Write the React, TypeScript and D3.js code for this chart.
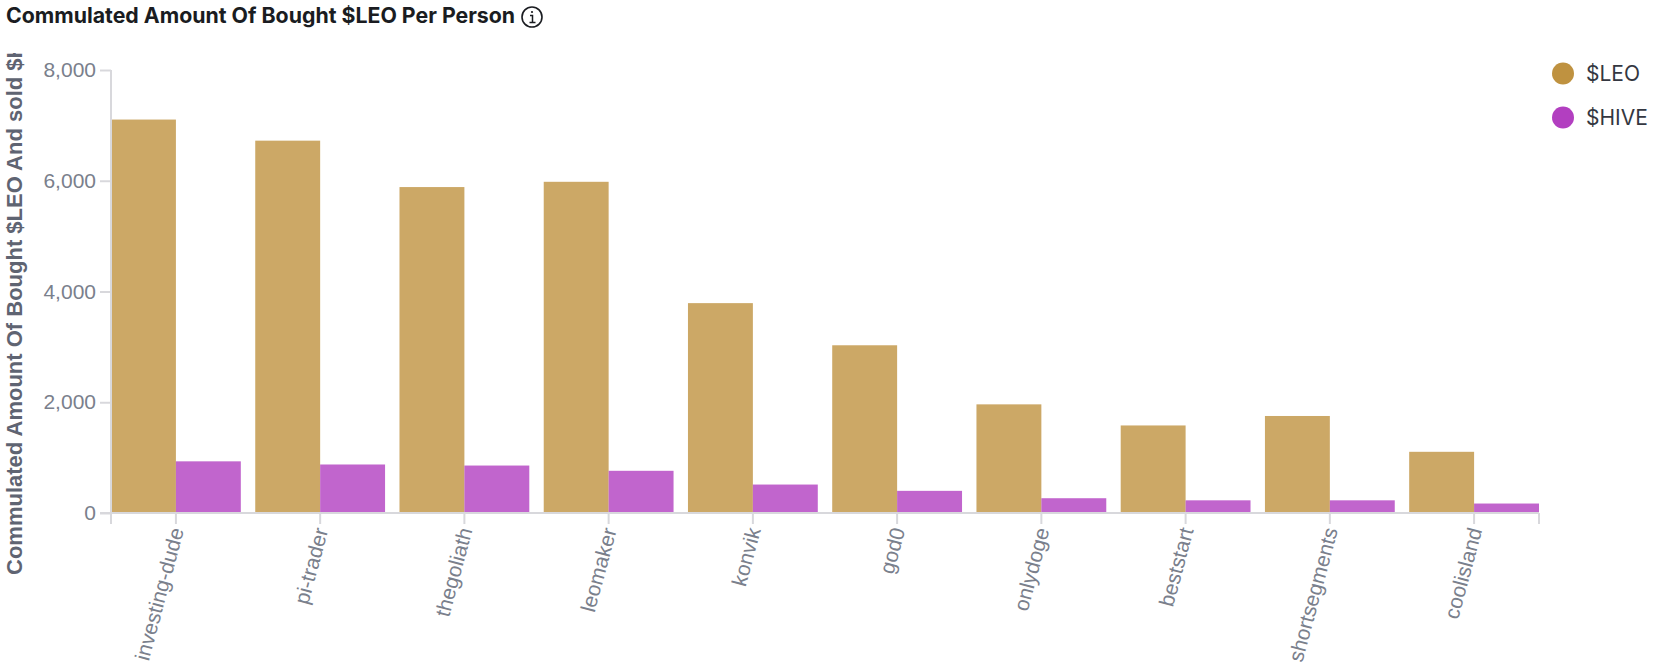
import React, { useEffect, useRef } from "react";
import * as d3 from "d3";

const categories = ["investing-dude", "pi-trader", "thegoliath", "leomaker", "konvik", "god0", "onlydoge", "beststart", "shortsegments", "coolisland"];
const leoValues = [7105, 6724, 5886, 5981, 3790, 3029, 1962, 1581, 1752, 1105];
const hiveValues = [933, 876, 857, 762, 514, 400, 267, 229, 229, 171];
const seriesNames = ["$LEO", "$HIVE"];
const legendColors = ["#BF9240", "#B23FC0"];
const yTicks = [0, 2000, 4000, 6000, 8000];
const titleText = "Commulated Amount Of Bought $LEO Per Person";
const yTitle = "Commulated Amount Of Bought $LEO And sold $HIVE";
const FONT = "Inter, 'Noto Sans', sans-serif";
const AXFONT = "'Liberation Sans', Arial, sans-serif";
const AXIS = "#D8D8DC";

export default function App() {
  const ref = useRef<SVGSVGElement>(null);
  useEffect(() => {
    const svg = d3.select(ref.current!);
    svg.selectAll("*").remove();
    const x = d3.scaleBand<string>().domain(categories).range([111, 1539]).paddingInner(0.1).paddingOuter(0);
    const inner = d3.scaleBand<string>().domain(seriesNames).range([0, x.bandwidth()]);
    const y = d3.scaleLinear().domain([0, 8000]).range([513, 70]);

    svg.append("defs").append("clipPath").attr("id", "ytitle-clip")
      .append("rect").attr("x", 0).attr("y", 53).attr("width", 40).attr("height", 540);

    svg.append("text").attr("x", 6).attr("y", 23).attr("font-family", FONT).attr("font-weight", 700)
      .attr("font-size", 21.3).attr("fill", "#1a1c21").text(titleText);
    const info = svg.append("g").attr("transform", "translate(532,17)").attr("fill", "none").attr("stroke", "#1a1c21");
    info.append("circle").attr("r", 10).attr("stroke-width", 1.6);
    info.append("path").attr("d", "M-2,-1.5H0.5V5.5M-2.5,5.5H3.5").attr("stroke-width", 1.5);
    info.append("circle").attr("cx", 0).attr("cy", -5).attr("r", 1.1).attr("fill", "#1a1c21").attr("stroke", "none");

    const groups = svg.append("g").selectAll("g").data(categories).join("g")
      .attr("transform", (d) => `translate(${x(d)},0)`);
    [leoValues, hiveValues].forEach((vals, s) => {
      groups.append("rect")
        .attr("x", inner(seriesNames[s])!)
        .attr("width", inner.bandwidth())
        .attr("y", (_, i) => y(vals[i]))
        .attr("height", (_, i) => y(0) - y(vals[i]))
        .attr("fill", legendColors[s]).attr("fill-opacity", 0.8);
    });

    const yAxis = svg.append("g").attr("transform", "translate(111,0)")
      .call(d3.axisLeft(y).tickValues(yTicks).tickFormat(d3.format(",") as any).tickSize(11).tickPadding(4));
    const xAxis = svg.append("g").attr("transform", "translate(0,513)")
      .call(d3.axisBottom(x).tickSize(11).tickPadding(4));
    xAxis.append("line").attr("x1", 111).attr("x2", 111).attr("y1", 0).attr("y2", 11);
    xAxis.append("line").attr("x1", 1539).attr("x2", 1539).attr("y1", 0).attr("y2", 11);
    for (const a of [yAxis, xAxis]) {
      a.selectAll("path").attr("stroke", AXIS).attr("stroke-width", 2).attr("d", null as any);
      a.selectAll("line").attr("stroke", AXIS).attr("stroke-width", 2);
    }
    yAxis.select("path").attr("d", "M0,70V513");
    xAxis.select("path").attr("d", "M100,0H1539");
    yAxis.selectAll("text").attr("font-family", AXFONT).attr("font-size", 21).attr("fill", "#7A808C");
    xAxis.selectAll(".tick text").attr("font-family", AXFONT).attr("font-size", 21).attr("fill", "#7A808C")
      .attr("text-anchor", "end").attr("dy", "0.35em").attr("x", 0).attr("y", 0)
      .attr("transform", "translate(1,15) rotate(-75)");

    svg.append("g").attr("clip-path", "url(#ytitle-clip)").append("text")
      .attr("transform", "translate(22,575) rotate(-90)")
      .attr("font-family", AXFONT).attr("font-weight", 700).attr("font-size", 22).attr("fill", "#5F6472")
      .text(yTitle);

    const legend = svg.append("g").selectAll("g").data(seriesNames).join("g")
      .attr("transform", (_, i) => `translate(1563,${73.5 + i * 44})`);
    legend.append("circle").attr("r", 11).attr("fill", (_, i) => legendColors[i]);
    legend.append("text").attr("x", 23).attr("dy", "0.35em").attr("font-family", FONT).attr("font-size", 21)
      .attr("fill", "#343741").text((d) => d);
  }, []);
  return <svg ref={ref} width={1655} height={670} style={{ position: "absolute", left: 0, top: 0, background: "#fff" }} />;
}
